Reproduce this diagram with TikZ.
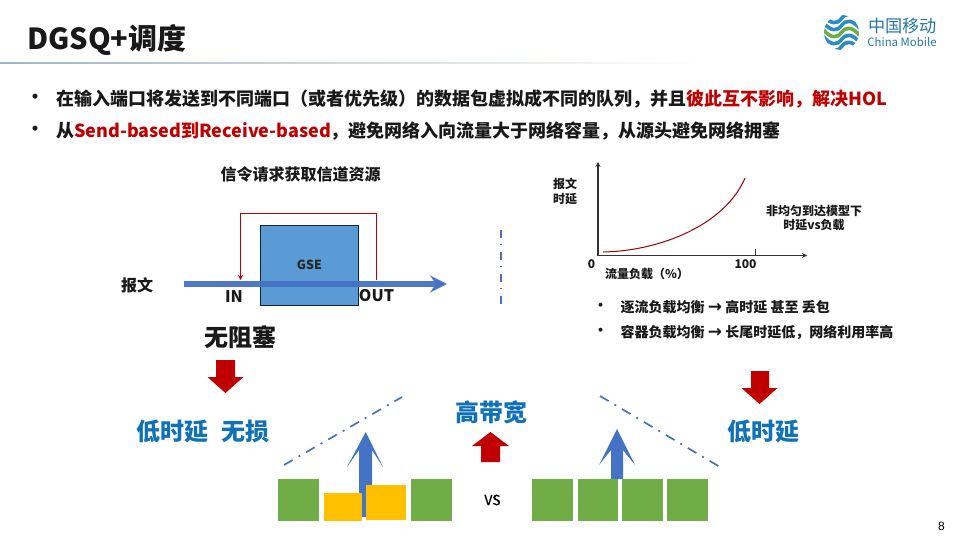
\documentclass[tikz,border=0pt]{standalone}
\usepackage{fontspec}
\setmainfont{Noto Sans CJK SC}
\newfontfamily\arrowfont{DejaVu Sans}
\usetikzlibrary{arrows.meta,shadings}
\definecolor{cRed}{HTML}{C00000}
\definecolor{cBlue}{HTML}{4472C4}
\definecolor{cBox}{HTML}{5B9BD5}
\definecolor{cGreen}{HTML}{70AD47}
\definecolor{cGold}{HTML}{FFC000}
\definecolor{cTitle}{HTML}{0F71B8}
\definecolor{cLogo}{HTML}{2E8CC4}
\definecolor{cRule}{HTML}{9FB4C7}
\newcommand{\arw}{{\arrowfont\fontsize{17}{14}\selectfont→}}
\tikzset{
  txt/.style={inner sep=0pt,font=\bfseries\fontsize{#1}{#1}\selectfont,text=black!90},
  big/.style={inner sep=0pt,font=\bfseries\fontsize{#1}{#1}\selectfont,text=cTitle},
  greenbox/.style={fill=cGreen,draw=none,minimum height=42pt,inner sep=0pt},
  goldbox/.style={fill=cGold,draw=none,inner sep=0pt},
  redarrow/.style={fill=cRed,draw=none},
  bluearrow/.style={fill=cBlue,draw=none},
  dashline/.style={draw=cBlue,line width=1.7pt,dash pattern=on 10pt off 6.75pt on 2pt off 6.75pt},
  axis/.style={draw=black!80,line width=1.2pt,-{Stealth[length=5pt,width=5pt]}},
}
\begin{document}
\begin{tikzpicture}[x=1pt,y=-1pt]
\useasboundingbox (0,0) rectangle (960,540);
\fill[white] (0,0) rectangle (960,540);
% title
\node[txt=29,anchor=west] (title) at (27,40.5) {DGSQ+调度};
\shade[left color=cRule,right color=white] (0,62.5) rectangle (705,64);
% logo
\begin{scope}
\clip (841.5,32.5) circle (17.5pt);
\foreach \d/\c in {-14/cLogo,-7/cLogo,7/cLogo,14/cLogo,0/cGreen}{
  \draw[\c,line width=3.6pt] (823,{32.5+\d-3}) .. controls (831,{32.5+\d+6}) and (837,{32.5+\d+6}) .. (841.5,{32.5+\d}) .. controls (846,{32.5+\d-6}) and (852,{32.5+\d-6}) .. (860,{32.5+\d+3});
}
\end{scope}
\node[inner sep=0pt,font=\fontsize{17.2}{17.2}\selectfont,text=cLogo!85!black] (logocn) at (902.5,26.5) {中国移动};
\node[inner sep=0pt,font=\fontsize{11.4}{11.4}\selectfont,text=cLogo!85!black] (logoen) at (902,42.5) {China Mobile};
% bullets
\node[txt=18,anchor=center] (b1m) at (36,99) {•};
\node[txt=18,anchor=west] (l1) at (56,99) {在输入端口将发送到不同端口（或者优先级）的数据包虚拟成不同的队列，并且\textcolor{cRed}{彼此互不影响，解决HOL}};
\node[txt=18,anchor=center] (b2m) at (36,131) {•};
\node[txt=18,anchor=west] (l2) at (56,131) {从\textcolor{cRed}{Send-based到Receive-based}，避免网络入向流量大于网络容量，从源头避免网络拥塞};
% left diagram
\node[txt=16,anchor=center] (sig) at (300.5,174) {信令请求获取信道资源};
\node[fill=cBox,draw=black!70!cBlue,line width=1pt,minimum width=98pt,minimum height=80pt,inner sep=0pt] (gse) at (309.5,265) {};
\node[txt=12.5,text=black!85] (gsel) at (309.5,265) {GSE};
\node[txt=16] (msg) at (137,285) {报文};
\node[txt=16] (in) at (234,297) {IN};
\node[txt=16] (out) at (376.5,296) {OUT};
\coordinate (fs) at (184,284);
\coordinate (fe) at (447,284);
\draw[cBlue,line width=6pt,-{Stealth[length=17pt,width=17pt,inset=6pt]},opacity=.95] (fs) -- (fe);
\coordinate (rs) at (376.5,280);
\coordinate (re) at (240.5,280);
\draw[cRed,line width=.9pt,-{Stealth[length=5pt,width=5pt]}] (rs) -- (376.5,213) -- (240.5,213) -- (re);
\draw[cBlue,line width=2pt,dash pattern=on 7.5pt off 6.5pt on 1pt off 7pt] (501,230) -- (501,304);
\node[txt=24] (nb) at (240.5,337) {无阻塞};
\path[redarrow] (216,360) -- (235,360) -- (235,377) -- (243.5,377) -- (225.5,393) -- (207.5,377) -- (216,377) -- cycle;
\node[big=24] (ll) at (203,431) {低时延\hspace{14pt}无损};
% chart
\draw[axis] (598,255.5) -- (598,162);
\draw[axis] (598,255.5) -- (807,255.5);
\draw[black!80,line width=.8pt] (755,249) -- (755,255);
\draw[cRed!85!black,line width=1pt] (603,252) .. controls (660,251) and (725,225) .. (745,178);
\node[txt=12,align=center] (yl) at (565,191.5) {报文\\[3pt]时延};
\node[txt=12] (x0) at (591.5,264) {0};
\node[txt=12] (x100) at (745.5,264) {100};
\node[txt=12] (xl) at (647,274) {流量负载（\%）};
\node[txt=12,align=center] (nu) at (814,218) {非均匀到达模型下\\[2pt]时延vs负载};
\node[txt=14,anchor=center] (c1m) at (600.5,307) {•};
\node[txt=14,anchor=west] (c1) at (620.5,307) {逐流负载均衡 \arw{} 高时延 甚至 丢包};
\node[txt=14,anchor=center] (c2m) at (600.5,332) {•};
\node[txt=14,anchor=west] (c2) at (620.5,332) {容器负载均衡 \arw{} 长尾时延低，网络利用率高};
% right red arrow
\path[redarrow] (751,371) -- (769,371) -- (769,388) -- (777.5,388) -- (759.5,404) -- (741.5,388) -- (751,388) -- cycle;
\node[big=24] (ld) at (763.5,431) {低时延};
% center
\node[big=24] (gd) at (491,412) {高带宽};
\path[redarrow] (481,462) -- (500,462) -- (500,446) -- (509,446) -- (490.5,432) -- (472,446) -- (481,446) -- cycle;
\node[inner sep=0pt,font=\fontsize{14}{14}\selectfont\addfontfeature{FakeBold=0.5},text=black] (vs) at (492.5,500) {VS};
% left bars
\draw[dashline] (284,465) -- (402,397);
\path[bluearrow] (359,517) -- (372,517) -- (372,450) -- (383,467) -- (365.7,432) -- (347,467) -- (359,450) -- cycle;
\node[greenbox,minimum width=41pt] (g1) at (298.5,500) {};
\node[goldbox,minimum width=38pt,minimum height=28pt] (y1) at (343,507) {};
\node[goldbox,minimum width=40pt,minimum height=35pt] (y2) at (386,502.5) {};
\node[greenbox,minimum width=41pt] (g2) at (431.5,500) {};
% right bars
\draw[dashline] (600,396) -- (720,467);
\path[bluearrow] (611,479) -- (623,479) -- (623,450) -- (635,465) -- (617,429) -- (599,465) -- (611,450) -- cycle;
\node[greenbox,minimum width=40.7pt] (h1) at (552.4,500) {};
\node[greenbox,minimum width=40pt] (h2) at (597.7,500) {};
\node[greenbox,minimum width=40.4pt] (h3) at (642.5,500) {};
\node[greenbox,minimum width=40.7pt] (h4) at (687.4,500) {};
\node[inner sep=0pt,font=\fontspec{Liberation Sans}\fontsize{12}{12}\selectfont] (pg) at (941.5,526) {8};
\end{tikzpicture}
\end{document}
